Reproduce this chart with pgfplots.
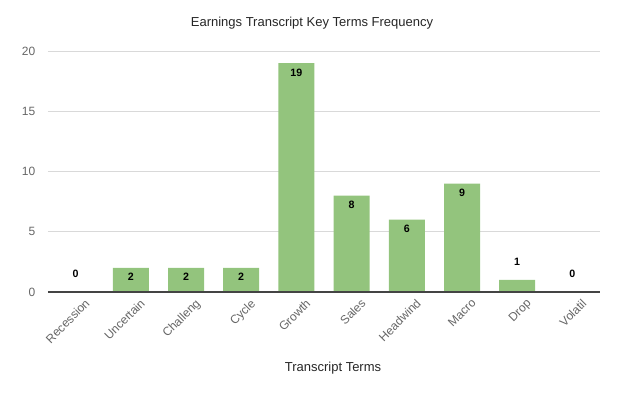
\documentclass[border=0pt]{standalone}
\usepackage{pgfplots}
\pgfplotsset{compat=1.18}
\usepackage{fontspec}
\setmainfont{Liberation Sans}
\definecolor{barGreen}{HTML}{93C47D}
\definecolor{tickGray}{HTML}{666666}
\definecolor{gridGray}{HTML}{D9D9D9}
\definecolor{axisGray}{HTML}{444444}
\begin{document}
\begin{tikzpicture}[x=0.75pt,y=0.75pt]
\begin{axis}[
  name=ax,
  scale only axis,
  width=414pt, height=180.75pt,
  xmin=-0.5, xmax=9.5,
  ymin=0, ymax=20,
  ytick={0,5,10,15,20},
  xtick={0,...,9},
  xticklabels={Recession,Uncertain,Challeng,Cycle,Growth,Sales,Headwind,Macro,Drop,Volatil},
  xticklabel style={xshift=6.5pt, yshift=-5pt, rotate=45, anchor=north east, font=\fontsize{9}{10}\selectfont, text=tickGray, inner sep=1pt},
  xticklabel shift=-2pt,
  y tick label style={font=\fontsize{9}{10}\selectfont, text=tickGray, xshift=-6pt},
  /pgf/number format/assume math mode=true,
  ymajorgrids,
  grid style={gridGray, line width=0.6pt},
  axis line style={draw=none},
  major tick length=0pt,
  clip=false,
]
\addplot[ybar, bar width=27pt, fill=barGreen, draw=none] coordinates {
 (0,0) (1,2) (2,2) (3,2) (4,19) (5,8) (6,6) (7,9) (8,1) (9,0)};
\draw[axisGray, line width=0.8pt] (axis cs:-0.5,0) -- (axis cs:9.5,0);
\addplot[only marks, mark=none, nodes near coords, point meta=y,
  nodes near coords style={anchor=center, yshift=-7pt, font=\bfseries\fontsize{8}{9}\selectfont, text=black},
  ] coordinates {(1,2) (2,2) (3,2) (4,19) (5,8) (6,6) (7,9)};
\addplot[only marks, mark=none, nodes near coords, point meta=y,
  nodes near coords style={anchor=center, yshift=13.5pt, font=\bfseries\fontsize{8}{9}\selectfont, text=black},
  ] coordinates {(0,0) (8,1) (9,0)};
\end{axis}
\node[font=\fontsize{9.75}{11}\selectfont, text=black!85] at ([xshift=-9pt, yshift=21pt]ax.north) {Earnings Transcript Key Terms Frequency};
\node[font=\fontsize{9.75}{11}\selectfont, text=black!85] at ([xshift=6.75pt, yshift=-57pt]ax.south) {Transcript Terms};
\pgfresetboundingbox
\path[use as bounding box] ([xshift=-36pt, yshift=-78pt]ax.south west) rectangle ([xshift=30pt, yshift=38.25pt]ax.north east);
\end{tikzpicture}
\end{document}
